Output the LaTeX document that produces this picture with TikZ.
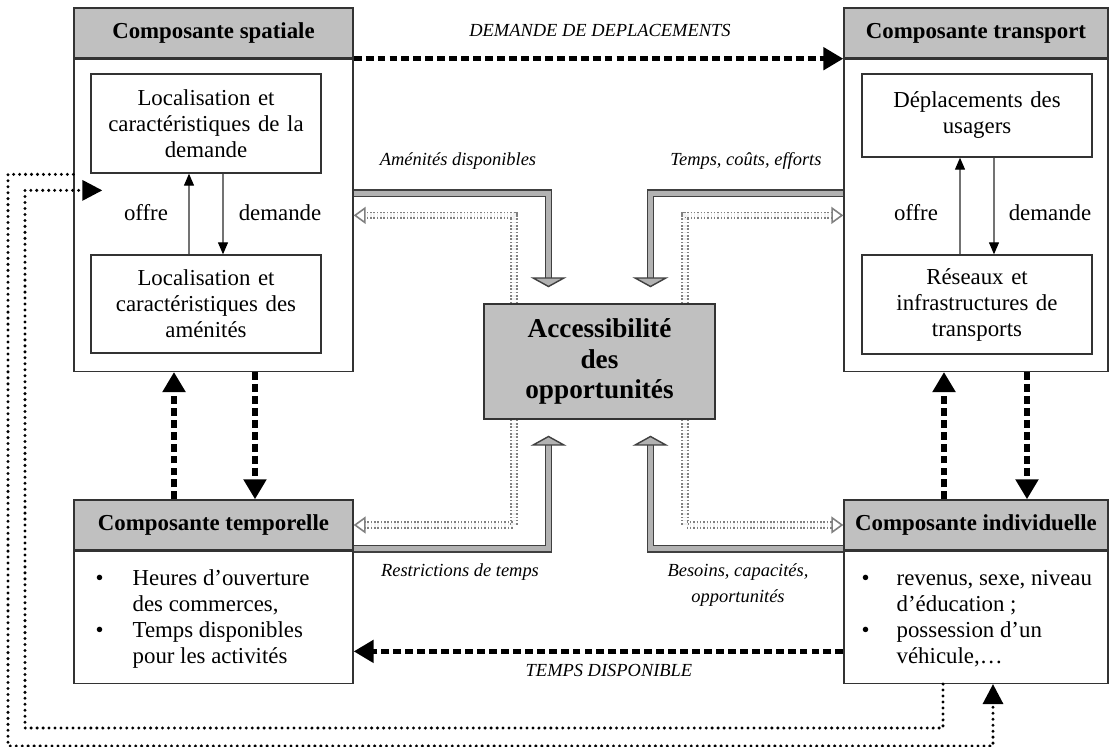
\documentclass[tikz,border=0pt]{standalone}
\usepackage{fontspec}
\setmainfont{Liberation Serif}
\usetikzlibrary{arrows.meta,positioning}
\definecolor{grisfond}{RGB}{192,192,192}
\definecolor{grisfleche}{RGB}{178,178,178}

\begin{document}
\begin{tikzpicture}[
	x=0.02cm, y=-0.02cm,
	font=\fontsize{13}{14.8}\selectfont,
	cadre/.style={draw=black!80, line width=0.8pt},
	entete/.style={cadre, fill=grisfond, font=\fontsize{13}{14.8}\selectfont\bfseries, minimum height=1cm, inner sep=0pt},
	corps/.style={cadre, fill=white, inner sep=0pt},
	boite/.style={cadre, minimum width=4.6cm, text width=4.4cm, align=center, inner sep=0pt},
	acces/.style={cadre, fill=grisfond, minimum width=4.62cm, minimum height=2.3cm, align=center, font=\fontsize{15.5}{17.5}\selectfont\bfseries},
	liste/.style={inner sep=0pt, anchor=north west},
	etiq/.style={font=\fontsize{10.5}{14.5}\selectfont\itshape, align=center},
	fine/.style={-{Triangle[length=0.24cm, width=0.2cm, color=black]}, draw=black!55, line width=0.7pt},
	gros/.style={-{Triangle[length=0.4cm, width=0.44cm]}, line width=3pt, dash pattern=on 4.5pt off 2.3pt},
	pointille/.style={-{Triangle[length=0.4cm, width=0.4cm]}, line width=1.9pt, line cap=round, dash pattern=on 0pt off 3.4pt},
	dbl/.style={-{Triangle[length=0.2cm, width=0.72cm, fill=grisfleche]}, draw=black!75, line width=0.8pt, double=grisfleche, double distance=0.1cm},
	pdbl/.style={-{Triangle[open, length=0.24cm, width=0.34cm]}, draw=black!50, line width=0.9pt, densely dotted, double=gray!10, double distance=0.08cm},
]
\useasboundingbox[fill=white] (0,0) rectangle (1113,747);

% composante spatiale
\node[entete, minimum width=5.58cm] (spH) at (213.5,33) {Composante spatiale};
\node[corps, minimum width=5.58cm, minimum height=6.24cm, anchor=north] (spB) at (spH.south) {};
\node[boite, minimum height=1.98cm] (spDem) at (206,123.5) {Localisation et\\caractéristiques de la\\demande};
\node[boite, minimum height=1.96cm] (spAm) at (206,304) {Localisation et\\caractéristiques des\\aménités};
\draw[fine] ([xshift=-0.34cm]spAm.north) -- ([xshift=-0.34cm]spDem.south);
\draw[fine] ([xshift=0.34cm]spDem.south) -- ([xshift=0.34cm]spAm.north);
\node (spOffre) at (146,213) {offre};
\node (spDemande) at (280,213) {demande};

% composante transport
\node[entete, minimum width=5.28cm] (trH) at (976,33) {Composante transport};
\node[corps, minimum width=5.28cm, minimum height=6.24cm, anchor=north] (trB) at (trH.south) {};
\node[boite, minimum height=1.66cm] (trDep) at (977,115.5) {Déplacements des\\usagers};
\node[boite, minimum height=1.98cm] (trRes) at (977,304.5) {Réseaux et\\infrastructures de\\transports};
\draw[fine] ([xshift=-0.34cm]trRes.north) -- ([xshift=-0.34cm]trDep.south);
\draw[fine] ([xshift=0.34cm]trDep.south) -- ([xshift=0.34cm]trRes.north);
\node (trOffre) at (916,213) {offre};
\node (trDemande) at (1050,213) {demande};

% composante temporelle
\node[entete, minimum width=5.58cm] (teH) at (213.5,525) {Composante temporelle};
\node[corps, minimum width=5.58cm, minimum height=2.64cm, anchor=north] (teB) at (teH.south) {};
\node[liste] (teListe) at ([xshift=0.44cm,yshift=-0.32cm]teB.north west) {%
	\begin{tabular}{@{}p{0.74cm}@{}l@{}}
	\textbullet & Heures d’ouverture\\
	& des commerces,\\
	\textbullet & Temps disponibles\\
	& pour les activités
	\end{tabular}};

% composante individuelle
\node[entete, minimum width=5.28cm] (inH) at (976,525) {Composante individuelle};
\node[corps, minimum width=5.28cm, minimum height=2.64cm, anchor=north] (inB) at (inH.south) {};
\node[liste] (inListe) at ([xshift=0.36cm,yshift=-0.32cm]inB.north west) {%
	\begin{tabular}{@{}p{0.7cm}@{}l@{}}
	\textbullet & revenus, sexe, niveau\\
	& d’éducation ;\\
	\textbullet & possession d’un\\
	& véhicule,…
	\end{tabular}};

% accessibilite
\node[acces] (acc) at (599.5,361.5) {Accessibilité\\des\\opportunités};

% grosses fleches pointillees
\draw[gros] (spH.south east) -- (trH.south west);
\node[etiq] (lbDem) at (600,30) {DEMANDE DE DEPLACEMENTS};
\draw[gros] ([yshift=-0.68cm]inB.west) -- ([yshift=-0.68cm]teB.east);
\node[etiq] (lbDisp) at (609,670) {TEMPS DISPONIBLE};
\draw[gros] ([xshift=-0.79cm]teH.north) -- ([xshift=-0.79cm]spB.south);
\draw[gros] ([xshift=0.83cm]spB.south) -- ([xshift=0.83cm]teH.north);
\draw[gros] ([xshift=-0.64cm]inH.north) -- ([xshift=-0.64cm]trB.south);
\draw[gros] ([xshift=1.02cm]trB.south) -- ([xshift=1.02cm]inH.north);

% fleches doubles
\draw[dbl] ([yshift=0.44cm]spB.east) -| ([xshift=-1.02cm,yshift=0.32cm]acc.north);
\draw[dbl] ([yshift=0.44cm]trB.west) -| ([xshift=1.02cm,yshift=0.32cm]acc.north);
\draw[dbl] ([yshift=0.04cm]teH.south east) -| ([xshift=-1.02cm,yshift=-0.32cm]acc.south);
\draw[dbl] ([yshift=0.04cm]inH.south west) -| ([xshift=1.02cm,yshift=-0.32cm]acc.south);
\draw[pdbl] ([xshift=-1.71cm]acc.north) |- (spB.east);
\draw[pdbl] ([xshift=1.71cm]acc.north) |- (trB.west);
\draw[pdbl] ([xshift=-1.71cm]acc.south) |- (teH.east);
\draw[pdbl] ([xshift=1.71cm]acc.south) |- (inH.west);
\node[etiq] (lbAm) at (458,161) {Aménités disponibles};
\node[etiq] (lbTps) at (746,161) {Temps, coûts, efforts};
\node[etiq] (lbRes) at (460,572) {Restrictions de temps};
\node[etiq] (lbBes) at (738,585) {Besoins, capacités,\\opportunités};

% boucles en pointilles
\coordinate (coinA) at (8,746);
\coordinate (coinB) at (25,728);
\draw[pointille] ([yshift=0.82cm]spB.west) -| (coinA) -| ([xshift=0.34cm]inB.south);
\draw[pointille] ([xshift=-0.66cm]inB.south) |- (coinB) |- ([xshift=0.58cm,yshift=0.5cm]spB.west);
\end{tikzpicture}
\end{document}
